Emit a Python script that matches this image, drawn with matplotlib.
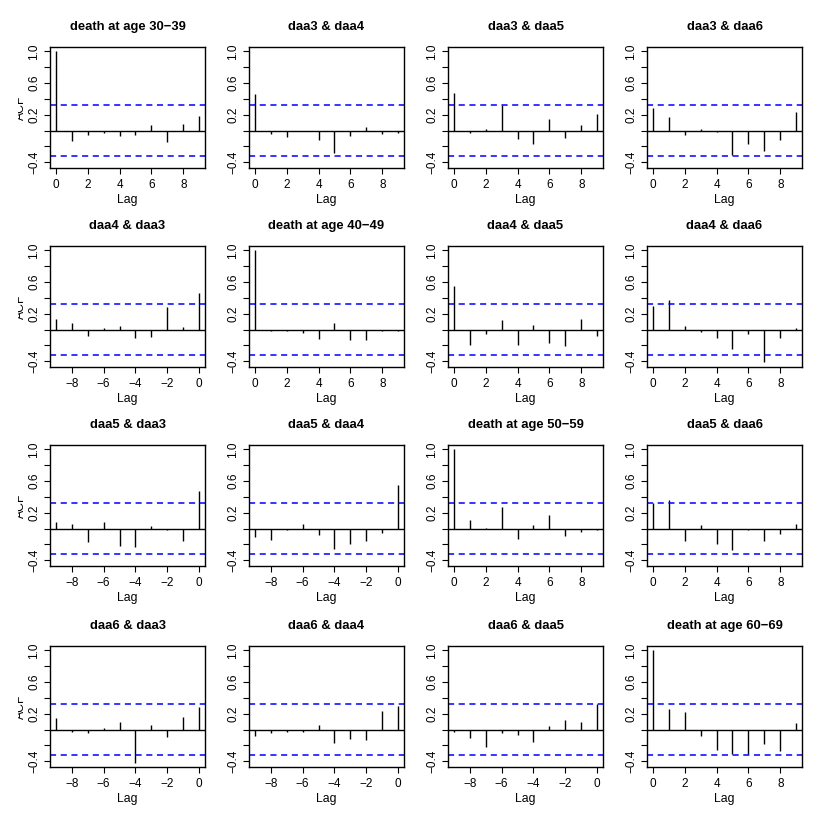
import numpy as np
import matplotlib.pyplot as plt
from matplotlib.transforms import Bbox, TransformedBbox

plt.rcParams['font.family'] = ['Liberation Sans', 'DejaVu Sans']

# ------------------------------------------------------------
# Data read off the acf() plot (lags 0..9 above, -9..0 below)
# ------------------------------------------------------------
series = ["daa3", "daa4", "daa5", "daa6"]
diag_titles = ["death at age 30\u221239", "death at age 40\u221249",
               "death at age 50\u221259", "death at age 60\u221269"]

lags_pos = [0, 1, 2, 3, 4, 5, 6, 7, 8, 9]
lags_neg = [-9, -8, -7, -6, -5, -4, -3, -2, -1, 0]

daa3_acf = [1.0, -0.135, -0.06, -0.03, -0.07, -0.06, 0.07, -0.14, 0.08, 0.185]
daa3_daa4 = [0.46, -0.04, -0.075, -0.005, -0.12, -0.285, -0.07, 0.045, -0.045, -0.03]
daa3_daa5 = [0.48, -0.025, 0.025, 0.32, -0.10, -0.17, 0.145, -0.09, 0.07, 0.21]
daa3_daa6 = [0.29, 0.175, -0.05, 0.015, -0.015, -0.31, -0.17, -0.255, -0.12, 0.24]

daa4_daa3 = [0.13, 0.085, -0.08, 0.02, 0.05, -0.105, -0.09, 0.28, 0.03, 0.46]
daa4_acf = [1.0, -0.015, -0.015, -0.045, -0.12, 0.085, -0.13, -0.135, -0.015, -0.015]
daa4_daa5 = [0.555, -0.195, -0.055, 0.12, -0.20, 0.065, -0.17, -0.21, 0.13, -0.08]
daa4_daa6 = [0.30, 0.37, 0.04, -0.025, -0.11, -0.25, -0.055, -0.41, -0.10, 0.025]

daa5_daa3 = [0.08, 0.065, -0.17, 0.085, -0.22, -0.235, 0.03, -0.015, -0.15, 0.48]
daa5_daa4 = [-0.11, -0.14, -0.015, 0.065, -0.075, -0.255, -0.20, -0.16, -0.06, 0.555]
daa5_acf = [1.0, 0.11, 0.01, 0.27, -0.13, 0.04, 0.175, -0.09, -0.04, -0.015]
daa5_daa6 = [0.32, 0.365, -0.16, 0.045, -0.20, -0.275, -0.02, -0.16, -0.065, 0.055]

daa6_daa3 = [0.145, -0.035, -0.045, 0.02, 0.10, -0.415, 0.065, -0.09, 0.16, 0.29]
daa6_daa4 = [-0.075, -0.04, -0.025, -0.035, 0.065, -0.165, -0.12, -0.125, 0.235, 0.30]
daa6_daa5 = [-0.025, -0.10, -0.215, -0.04, -0.07, -0.155, 0.04, 0.125, 0.095, 0.32]
daa6_acf = [1.0, 0.255, 0.225, -0.08, -0.26, -0.305, -0.31, -0.18, -0.275, 0.09]

ci_level = 0.32

grid = [
    [daa3_acf, daa3_daa4, daa3_daa5, daa3_daa6],
    [daa4_daa3, daa4_acf, daa4_daa5, daa4_daa6],
    [daa5_daa3, daa5_daa4, daa5_acf, daa5_daa6],
    [daa6_daa3, daa6_daa4, daa6_daa5, daa6_acf],
]

# common y range, like plot.acf (data + ci, 4% extension)
all_vals = np.concatenate([np.ravel(r) for r in grid])
lo = min(all_vals.min(), -ci_level)
hi = max(all_vals.max(), ci_level)
ext = 0.04 * (hi - lo)
ylim = (lo - ext, hi + ext)

yticks = [-0.4, -0.2, 0.0, 0.2, 0.4, 0.6, 0.8, 1.0]
yticklabels = ["\u22120.4", "", "", "0.2", "", "0.6", "", "1.0"]

# ------------------------------------------------------------
# Layout (pixel positions of each plot box)
# ------------------------------------------------------------
W = H = 830
fig = plt.figure(figsize=(W / 100, H / 100), dpi=100)

col_left = [50, 249, 448, 647]
row_top = [47, 246, 445, 646]
box_w, box_h = 155, 121

for i in range(4):
    for j in range(4):
        vals = grid[i][j]
        lags = lags_neg if i > j else lags_pos
        ax = fig.add_axes([col_left[j] / W, 1 - (row_top[i] + box_h) / H,
                           box_w / W, box_h / H])

        ax.vlines(lags, 0, vals, color="black", lw=1.0)
        ax.axhline(0, color="black", lw=1.0)
        for c in (ci_level, -ci_level):
            ax.axhline(c, color="#0000FF", lw=1.1, linestyle=(0, (4, 3)))

        x0, x1 = min(lags), max(lags)
        xe = 0.04 * (x1 - x0)
        ax.set_xlim(x0 - xe, x1 + xe)
        ax.set_ylim(*ylim)

        ax.set_xticks(lags[::2] if i <= j else lags[1::2])
        ax.set_yticks(yticks)
        ax.set_yticklabels(yticklabels, rotation=90, va="center")
        ax.tick_params(direction="out", length=4, width=0.8,
                       labelsize=8.5, colors="black")
        ax.tick_params(axis="x", pad=4)
        ax.tick_params(axis="y", pad=3)
        for sp in ax.spines.values():
            sp.set_linewidth(1.0)

        title = diag_titles[i] if i == j else f"{series[i]} & {series[j]}"
        ax.text(0.5, 1 + 20 / box_h, title, transform=ax.transAxes,
                ha="center", va="center", fontsize=9.4, fontweight="bold")
        ax.text(0.5, -32 / box_h, "Lag", transform=ax.transAxes,
                ha="center", va="center", fontsize=8.8)

        if j == 0:
            # the "ACF" label sits half outside its figure region in R
            yc = 1 - (row_top[i] + box_h / 2) / H
            t = fig.text(27 / W, yc, "ACF", rotation=90, ha="right",
                         va="center", fontsize=8.8)
            t.set_clip_box(TransformedBbox(
                Bbox([[18 / W, 0], [60 / W, 1]]), fig.transFigure))

fig.savefig("out.png", dpi=100)
